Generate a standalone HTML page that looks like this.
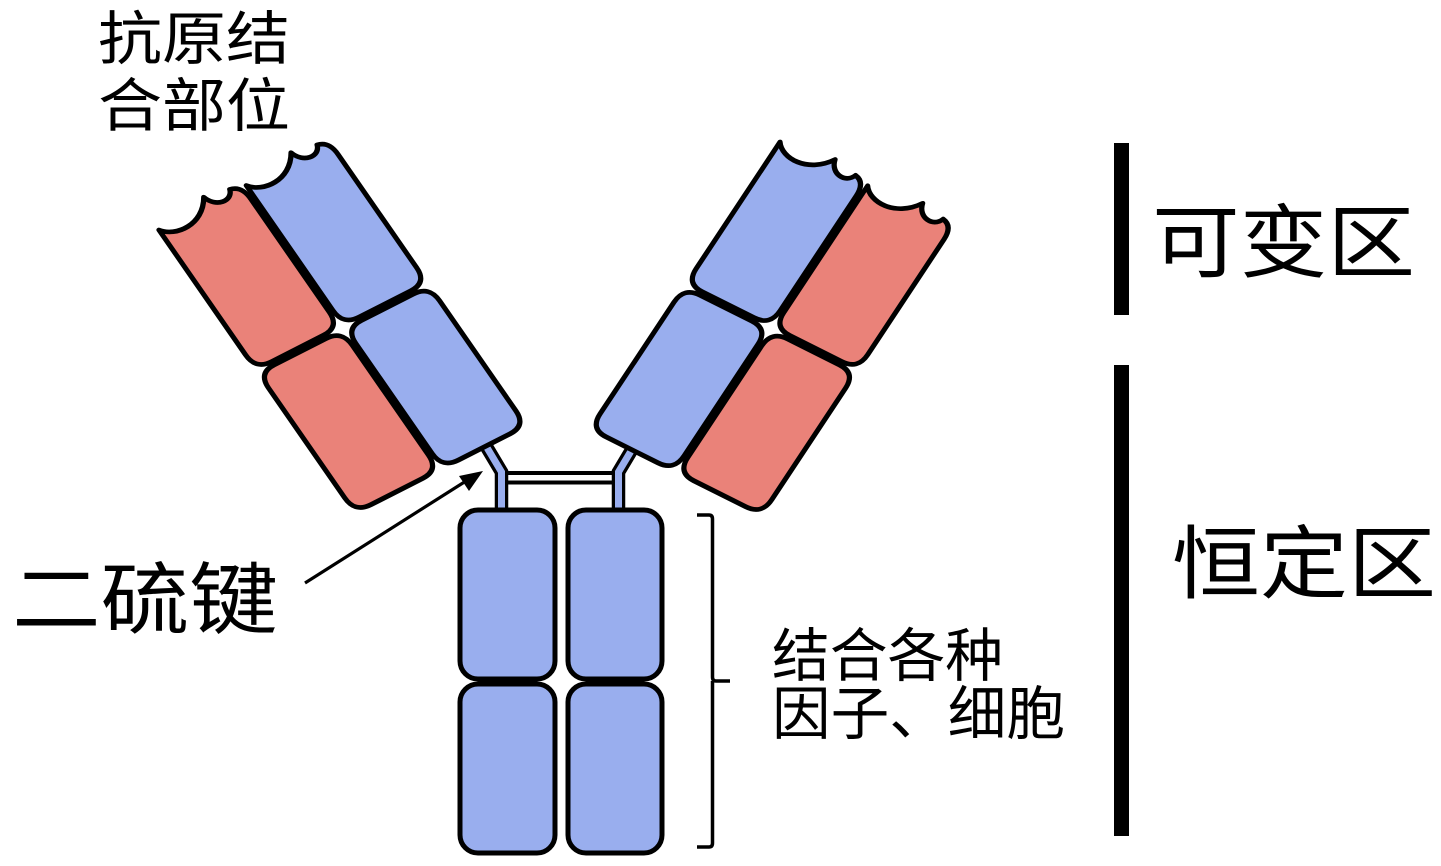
<!DOCTYPE html>
<html>
<head>
<meta charset="utf-8">
<style>
  html, body { margin:0; padding:0; background:#ffffff; }
  body { width:1441px; height:866px; overflow:hidden; }
  svg { display:block; }
  .t { font-family: "Liberation Sans", "Noto Sans CJK SC", "WenQuanYi Zen Hei", sans-serif; fill:#000; }
</style>
</head>
<body>
<svg width="1441" height="866" viewBox="0 0 1441 866" xmlns="http://www.w3.org/2000/svg">
  <defs>
    <path id="vdom" d="M 0,0 C 10,14 40,16 56,-9 C 60,6 78,8 82,-4 Q 94,-2 94,14 L 94,152 Q 94,170 76,170 L 18,170 Q 0,170 0,152 Z"/>
    <path id="cdom" d="M 18,174 L 76,174 Q 94,174 94,192 L 94,326 Q 94,344 76,344 L 18,344 Q 0,344 0,326 L 0,192 Q 0,174 18,174 Z"/>
  </defs>

  <!-- disulfide bond -->
  <rect x="506" y="473" width="108" height="9.5" fill="#ffffff" stroke="#000" stroke-width="4"/>

  <!-- hinges -->
  <path d="M 501.5,514 L 501.5,472 L 486,446" fill="none" stroke="#000" stroke-width="13.5" stroke-linejoin="miter"/>
  <path d="M 618.5,514 L 618.5,472 L 634,446" fill="none" stroke="#000" stroke-width="13.5" stroke-linejoin="miter"/>
  <path d="M 501.5,516 L 501.5,472 L 486,446" fill="none" stroke="#99aeee" stroke-width="7" stroke-linejoin="miter"/>
  <path d="M 618.5,516 L 618.5,472 L 634,446" fill="none" stroke="#99aeee" stroke-width="7" stroke-linejoin="miter"/>

  <!-- left arm -->
  <g transform="matrix(0.891 -0.454 0.57 0.822 159 230)" stroke="#000" stroke-width="5" stroke-linejoin="round">
    <use href="#vdom" fill="#ea8279"/>
    <use href="#cdom" fill="#ea8279"/>
    <use href="#vdom" fill="#99aeee" transform="translate(98,0)"/>
    <use href="#cdom" fill="#99aeee" transform="translate(98,0)"/>
  </g>

  <!-- right arm -->
  <g transform="matrix(0.894 0.447 -0.552 0.834 780 142)" stroke="#000" stroke-width="5" stroke-linejoin="round">
    <use href="#vdom" fill="#99aeee"/>
    <use href="#cdom" fill="#99aeee"/>
    <use href="#vdom" fill="#ea8279" transform="translate(98,0)"/>
    <use href="#cdom" fill="#ea8279" transform="translate(98,0)"/>
  </g>

  <!-- stem -->
  <g stroke="#000" stroke-width="5" fill="#99aeee">
    <rect x="460" y="510" width="95" height="169" rx="18" ry="18"/>
    <rect x="460" y="684" width="95" height="169" rx="18" ry="18"/>
    <rect x="568" y="510" width="94" height="169" rx="18" ry="18"/>
    <rect x="568" y="684" width="94" height="169" rx="18" ry="18"/>
  </g>

  <!-- arrow -->
  <line x1="305" y1="583" x2="466" y2="481" stroke="#000" stroke-width="3.2"/>
  <polygon points="483,471 459,476 469,491" fill="#000"/>

  <!-- bracket -->
  <path d="M 697,515 L 709,515 Q 712.5,515 712.5,519 L 712.5,677 Q 712.5,681 716,681 L 730,681 M 712.5,681 Q 712.5,685 712.5,689 L 712.5,843 Q 712.5,847 709,847 L 697,847" fill="none" stroke="#000" stroke-width="3.5"/>

  <!-- right bars -->
  <rect x="1114" y="143" width="15" height="172" fill="#000"/>
  <rect x="1114" y="365" width="15" height="471" fill="#000"/>

  <!-- labels -->
  <text class="t" x="98" y="59" font-size="58" textLength="192" lengthAdjust="spacingAndGlyphs">抗原结</text>
  <text class="t" x="98" y="126" font-size="58" textLength="192" lengthAdjust="spacingAndGlyphs">合部位</text>

  <text class="t" x="1152" y="271" font-size="80" textLength="263" lengthAdjust="spacingAndGlyphs">可变区</text>
  <text class="t" x="1172" y="592" font-size="80" textLength="264" lengthAdjust="spacingAndGlyphs">恒定区</text>

  <text class="t" x="12" y="627" font-size="78" textLength="266" lengthAdjust="spacingAndGlyphs">二硫键</text>

  <text class="t" x="772" y="676" font-size="58" textLength="231" lengthAdjust="spacingAndGlyphs">结合各种</text>
  <text class="t" x="772" y="734" font-size="58" textLength="293" lengthAdjust="spacingAndGlyphs">因子、细胞</text>
</svg>
</body>
</html>
